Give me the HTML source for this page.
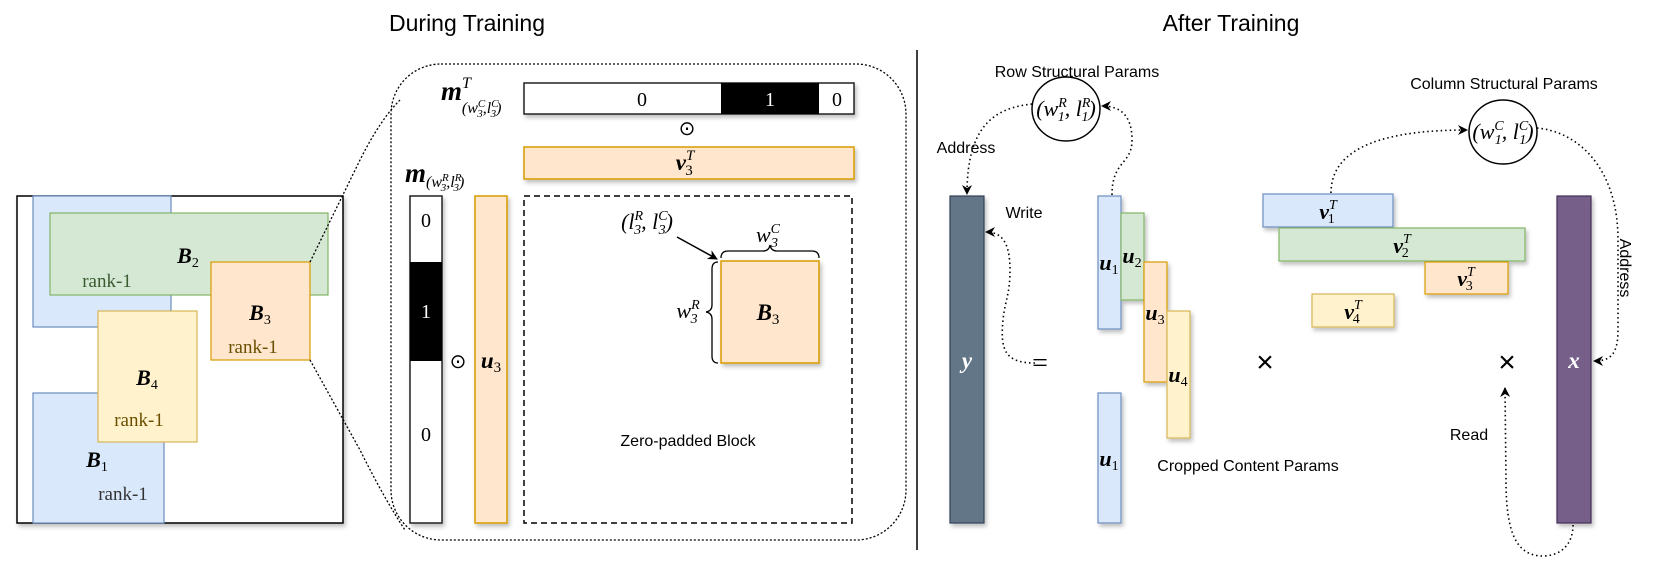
<!DOCTYPE html>
<html><head><meta charset="utf-8"><style>
html,body{margin:0;padding:0;background:#fff;}
svg{display:block;}
.s{font-family:"Liberation Sans",sans-serif;}
.m{font-family:"Liberation Serif",serif;font-style:italic;font-weight:bold;}
.r{font-family:"Liberation Serif",serif;}
.i{font-family:"Liberation Serif",serif;font-style:italic;}
</style></head><body>
<svg width="1661" height="565" viewBox="0 0 1661 565" xmlns="http://www.w3.org/2000/svg">
<defs>
<marker id="ah" viewBox="0 0 10 10" refX="9" refY="5" markerWidth="10" markerHeight="10" orient="auto-start-reverse" markerUnits="userSpaceOnUse"><path d="M0,0 L10,5 L0,10 L3,5 z" fill="#000"/></marker>
<filter id="sh" x="-20%" y="-20%" width="150%" height="150%"><feDropShadow dx="2" dy="3" stdDeviation="2" flood-color="#000" flood-opacity="0.25"/></filter>
</defs>
<text x="467" y="31" class="s" font-size="23" text-anchor="middle">During Training</text>
<text x="1231" y="31" class="s" font-size="23" text-anchor="middle">After Training</text>
<line x1="917" y1="50" x2="917" y2="550" stroke="#000" stroke-width="1.5"/>

<!-- left matrix -->
<rect x="17" y="196" width="326" height="327" fill="#fff" stroke="#000" stroke-width="1.5" filter="url(#sh)"/>
<rect x="33" y="196" width="138" height="131" fill="#dae8fc" stroke="#6c8ebf" stroke-width="1.2"/>
<rect x="33" y="393" width="131" height="130" fill="#dae8fc" stroke="#6c8ebf" stroke-width="1.2"/>
<rect x="50" y="213" width="278" height="82" fill="#d5e8d4" stroke="#82b366" stroke-width="1.2"/>
<rect x="211" y="262" width="99" height="98" fill="#ffe6cc" stroke="#d79b00" stroke-width="1.2"/>
<rect x="98" y="311" width="99" height="131" fill="#fff2cc" stroke="#d6b656" stroke-width="1.2"/>
<text x="188" y="263" class="m" font-size="22" text-anchor="middle">B<tspan class="r" font-weight="normal" font-style="normal" font-size="14" dy="4">2</tspan></text>
<text x="107" y="287" class="r" font-size="19" fill="#3a5a30" text-anchor="middle">rank-1</text>
<text x="260" y="320" class="m" font-size="22" text-anchor="middle">B<tspan class="r" font-weight="normal" font-style="normal" font-size="14" dy="4">3</tspan></text>
<text x="253" y="353" class="r" font-size="19" fill="#6b4f00" text-anchor="middle">rank-1</text>
<text x="147" y="385" class="m" font-size="22" text-anchor="middle">B<tspan class="r" font-weight="normal" font-style="normal" font-size="14" dy="4">4</tspan></text>
<text x="139" y="426" class="r" font-size="19" fill="#6b4f00" text-anchor="middle">rank-1</text>
<text x="97" y="467" class="m" font-size="22" text-anchor="middle">B<tspan class="r" font-weight="normal" font-style="normal" font-size="14" dy="4">1</tspan></text>
<text x="123" y="500" class="r" font-size="19" fill="#333" text-anchor="middle">rank-1</text>

<!-- zoom lines -->
<path d="M310,262 L360,160 Q380,120 400,100" fill="none" stroke="#000" stroke-width="1.3" stroke-dasharray="2,2"/>
<path d="M310,360 L360,450 Q385,500 405,530" fill="none" stroke="#000" stroke-width="1.3" stroke-dasharray="2,2"/>
<rect x="391" y="64" width="515" height="476" rx="50" ry="50" fill="none" stroke="#000" stroke-width="1.3" stroke-dasharray="2,2"/>

<!-- m^T bar -->
<rect x="524" y="83" width="330" height="31" fill="#fff" stroke="#222" stroke-width="1.5" filter="url(#sh)"/>
<rect x="721" y="83" width="98" height="31" fill="#000"/>
<text x="642" y="106" class="r" font-size="20" text-anchor="middle">0</text>
<text x="770" y="106" class="r" font-size="20" fill="#fff" text-anchor="middle">1</text>
<text x="837" y="106" class="r" font-size="20" text-anchor="middle">0</text>
<text x="441" y="100" class="m" font-size="27">m<tspan class="i" font-weight="normal" font-size="16" dy="-12">T</tspan><tspan class="i" font-weight="normal" font-size="16" dx="-9" dy="25">(w</tspan><tspan class="i" font-weight="normal" font-size="11" dy="-6">C</tspan><tspan class="i" font-weight="normal" font-size="11" dx="-8" dy="10">3</tspan><tspan class="i" font-weight="normal" font-size="16" dy="-4">,l</tspan><tspan class="i" font-weight="normal" font-size="11" dy="-6">C</tspan><tspan class="i" font-weight="normal" font-size="11" dx="-8" dy="10">3</tspan><tspan class="i" font-weight="normal" font-size="16" dy="-4">)</tspan></text>
<text x="687" y="135" class="r" font-size="20" text-anchor="middle">⊙</text>
<rect x="524" y="147" width="330" height="32" fill="#ffe6cc" stroke="#d79b00" stroke-width="1.5" filter="url(#sh)"/>
<text x="685" y="170" class="m" font-size="23" text-anchor="middle">v<tspan class="i" font-weight="normal" font-size="15" dy="-10">T</tspan><tspan class="r" font-weight="normal" font-style="normal" font-size="15" dx="-9" dy="15">3</tspan></text>

<!-- m column -->
<text x="405" y="182" class="m" font-size="27">m<tspan class="i" font-weight="normal" font-size="16" dy="5">(w</tspan><tspan class="i" font-weight="normal" font-size="11" dy="-6">R</tspan><tspan class="i" font-weight="normal" font-size="11" dx="-8" dy="10">3</tspan><tspan class="i" font-weight="normal" font-size="16" dy="-4">,l</tspan><tspan class="i" font-weight="normal" font-size="11" dy="-6">R</tspan><tspan class="i" font-weight="normal" font-size="11" dx="-8" dy="10">3</tspan><tspan class="i" font-weight="normal" font-size="16" dy="-4">)</tspan></text>
<rect x="410" y="196" width="32" height="327" fill="#fff" stroke="#222" stroke-width="1.5" filter="url(#sh)"/>
<rect x="410" y="262" width="32" height="99" fill="#000"/>
<text x="426" y="227" class="r" font-size="20" text-anchor="middle">0</text>
<text x="426" y="318" class="r" font-size="20" fill="#fff" text-anchor="middle">1</text>
<text x="426" y="441" class="r" font-size="20" text-anchor="middle">0</text>
<text x="458" y="368" class="r" font-size="20" text-anchor="middle">⊙</text>
<rect x="475" y="196" width="32" height="327" fill="#ffe6cc" stroke="#d79b00" stroke-width="1.5" filter="url(#sh)"/>
<text x="491" y="368" class="m" font-size="23" text-anchor="middle">u<tspan class="r" font-weight="normal" font-style="normal" font-size="15" dy="4">3</tspan></text>

<!-- dashed block -->
<rect x="524" y="196" width="328" height="327" fill="none" stroke="#000" stroke-width="1.5" stroke-dasharray="6,4"/>
<rect x="721" y="261" width="98" height="102" fill="#ffe6cc" stroke="#d79b00" stroke-width="1.5" filter="url(#sh)"/>
<text x="768" y="320" class="m" font-size="23" text-anchor="middle">B<tspan class="r" font-weight="normal" font-style="normal" font-size="15" dy="4">3</tspan></text>
<text x="647" y="229" class="i" font-size="22" text-anchor="middle">(l<tspan font-size="14" dy="-9">R</tspan><tspan font-size="14" dx="-9" dy="14">3</tspan><tspan dy="-5">, l</tspan><tspan font-size="14" dy="-9">C</tspan><tspan font-size="14" dx="-9" dy="14">3</tspan><tspan dy="-5">)</tspan></text>
<line x1="677" y1="237" x2="717" y2="259" stroke="#000" stroke-width="1.5" marker-end="url(#ah)"/>
<path d="M721,258 Q721,251 728,251 L763,251 Q769,251 770,245 Q771,251 777,251 L812,251 Q819,251 819,258" fill="none" stroke="#000" stroke-width="1.3"/>
<text x="768" y="242" class="i" font-size="22" text-anchor="middle">w<tspan font-size="14" dy="-9">C</tspan><tspan font-size="14" dx="-9" dy="14">3</tspan></text>
<path d="M718,262 Q712,262 712,269 L712,305 Q712,311 706,312 Q712,313 712,319 L712,356 Q712,363 718,363" fill="none" stroke="#000" stroke-width="1.3"/>
<text x="688" y="318" class="i" font-size="22" text-anchor="middle">w<tspan font-size="14" dy="-9">R</tspan><tspan font-size="14" dx="-9" dy="14">3</tspan></text>
<text x="688" y="446" class="s" font-size="16" text-anchor="middle">Zero-padded Block</text>

<!-- After training -->
<text x="1077" y="77" class="s" font-size="16" text-anchor="middle">Row Structural Params</text>
<text x="1504" y="89" class="s" font-size="16" text-anchor="middle">Column Structural Params</text>
<ellipse cx="1066" cy="109" rx="34" ry="32" fill="#fff" stroke="#000" stroke-width="1.5"/>
<text x="1066" y="116" class="i" font-size="22" text-anchor="middle">(w<tspan font-size="14" dy="-9">R</tspan><tspan font-size="14" dx="-9" dy="14">1</tspan><tspan dy="-5">, l</tspan><tspan font-size="14" dy="-9">R</tspan><tspan font-size="14" dx="-9" dy="14">1</tspan><tspan dy="-5">)</tspan></text>
<ellipse cx="1503" cy="132" rx="34" ry="32" fill="#fff" stroke="#000" stroke-width="1.5"/>
<text x="1503" y="139" class="i" font-size="22" text-anchor="middle">(w<tspan font-size="14" dy="-9">C</tspan><tspan font-size="14" dx="-9" dy="14">1</tspan><tspan dy="-5">, l</tspan><tspan font-size="14" dy="-9">C</tspan><tspan font-size="14" dx="-9" dy="14">1</tspan><tspan dy="-5">)</tspan></text>
<text x="966" y="153" class="s" font-size="16" text-anchor="middle">Address</text>
<text x="1024" y="218" class="s" font-size="16" text-anchor="middle">Write</text>
<text x="1469" y="440" class="s" font-size="16" text-anchor="middle">Read</text>
<text x="1248" y="471" class="s" font-size="16" text-anchor="middle">Cropped Content Params</text>
<text x="1620" y="268" class="s" font-size="16" text-anchor="middle" transform="rotate(90 1620 268)">Address</text>

<!-- y column -->
<rect x="950" y="196" width="34" height="327" fill="#647687" stroke="#314354" stroke-width="1.2" filter="url(#sh)"/>
<text x="967" y="368" class="m" font-size="23" fill="#fff" text-anchor="middle">y</text>
<text x="1040" y="372" class="r" font-size="28" text-anchor="middle">=</text>

<!-- u columns -->
<g filter="url(#sh)" stroke-width="1.2">
<rect x="1098" y="196" width="23" height="133" fill="#dae8fc" stroke="#6c8ebf"/>
<rect x="1121" y="213" width="23" height="87" fill="#d5e8d4" stroke="#82b366"/>
<rect x="1144" y="262" width="23" height="120" fill="#ffe6cc" stroke="#d79b00"/>
<rect x="1167" y="311" width="23" height="127" fill="#fff2cc" stroke="#d6b656"/>
<rect x="1098" y="393" width="23" height="130" fill="#dae8fc" stroke="#6c8ebf"/>
</g>
<text x="1109" y="270" class="m" font-size="22" text-anchor="middle">u<tspan class="r" font-weight="normal" font-style="normal" font-size="14" dy="4">1</tspan></text>
<text x="1132" y="263" class="m" font-size="22" text-anchor="middle">u<tspan class="r" font-weight="normal" font-style="normal" font-size="14" dy="4">2</tspan></text>
<text x="1155" y="320" class="m" font-size="22" text-anchor="middle">u<tspan class="r" font-weight="normal" font-style="normal" font-size="14" dy="4">3</tspan></text>
<text x="1178" y="382" class="m" font-size="22" text-anchor="middle">u<tspan class="r" font-weight="normal" font-style="normal" font-size="14" dy="4">4</tspan></text>
<text x="1109" y="466" class="m" font-size="22" text-anchor="middle">u<tspan class="r" font-weight="normal" font-style="normal" font-size="14" dy="4">1</tspan></text>
<text x="1265" y="372" class="s" font-size="30" font-weight="100" text-anchor="middle">×</text>
<text x="1507" y="372" class="s" font-size="30" text-anchor="middle">×</text>

<!-- v rows -->
<g filter="url(#sh)" stroke-width="1.2">
<rect x="1263" y="194" width="130" height="33" fill="#dae8fc" stroke="#6c8ebf"/>
<rect x="1279" y="228" width="246" height="33" fill="#d5e8d4" stroke="#82b366"/>
<rect x="1425" y="262" width="83" height="32" fill="#ffe6cc" stroke="#d79b00"/>
<rect x="1312" y="294" width="82" height="33" fill="#fff2cc" stroke="#d6b656"/>
</g>
<text x="1328" y="219" class="m" font-size="22" text-anchor="middle">v<tspan class="i" font-weight="normal" font-size="14" dy="-10">T</tspan><tspan class="r" font-weight="normal" font-style="normal" font-size="14" dx="-9" dy="14">1</tspan></text>
<text x="1402" y="253" class="m" font-size="22" text-anchor="middle">v<tspan class="i" font-weight="normal" font-size="14" dy="-10">T</tspan><tspan class="r" font-weight="normal" font-style="normal" font-size="14" dx="-9" dy="14">2</tspan></text>
<text x="1466" y="286" class="m" font-size="22" text-anchor="middle">v<tspan class="i" font-weight="normal" font-size="14" dy="-10">T</tspan><tspan class="r" font-weight="normal" font-style="normal" font-size="14" dx="-9" dy="14">3</tspan></text>
<text x="1353" y="319" class="m" font-size="22" text-anchor="middle">v<tspan class="i" font-weight="normal" font-size="14" dy="-10">T</tspan><tspan class="r" font-weight="normal" font-style="normal" font-size="14" dx="-9" dy="14">4</tspan></text>

<!-- x column -->
<rect x="1557" y="196" width="34" height="327" fill="#76608a" stroke="#432d57" stroke-width="1.2" filter="url(#sh)"/>
<text x="1574" y="368" class="m" font-size="23" fill="#fff" text-anchor="middle">x</text>

<!-- connectors -->
<g fill="none" stroke="#000" stroke-width="1.6" stroke-dasharray="1.5,3">
<path d="M1032,104 C995,108 967,125 967,194" marker-end="url(#ah)"/>
<path d="M1112,195 C1112,160 1132,165 1132,140 C1132,115 1120,106 1102,106" marker-end="url(#ah)"/>
<path d="M1035,363 C1005,363 1000,350 1003,320 C1005,300 1010,295 1010,270 C1010,240 1000,232 986,232" marker-end="url(#ah)"/>
<path d="M1331,193 C1331,145 1390,130 1467,130" marker-end="url(#ah)"/>
<path d="M1537,128 C1580,132 1618,170 1618,240 L1618,330 C1618,355 1610,361 1594,361" marker-end="url(#ah)"/>
<path d="M1573,525 C1573,545 1560,556 1543,556 C1515,556 1506,530 1506,480 L1505,388" marker-end="url(#ah)"/>
</g>
</svg>
</body></html>
